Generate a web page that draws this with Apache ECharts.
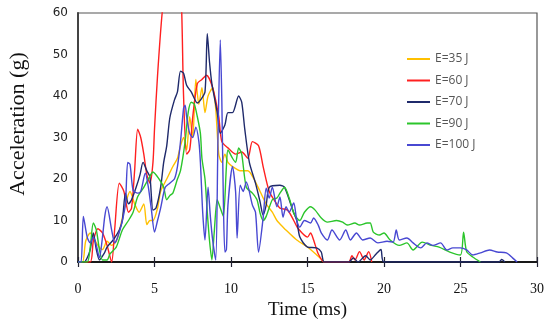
<!DOCTYPE html>
<html><head><meta charset="utf-8">
<script src="https://cdn.jsdelivr.net/npm/echarts@6/dist/echarts.min.js"></script>
<style>html,body{margin:0;padding:0;background:#fff}#c{width:550px;height:324px}</style>
</head><body><div id="c"></div>
<script>
var seriesNames = ["E=35 J","E=60 J","E=70 J","E=90 J","E=100 J"];
var xTicks = [0,5,10,15,20,25,30];
var yTicks = [0,10,20,30,40,50,60];

var t35 = [0,0.3,0.5,0.8,1.0,1.3,1.6,1.9,2.2,2.5,2.8,3.1,3.4,3.7,4.0,4.3,4.5,4.7,4.9,5.2,5.4,5.8,6.2,6.5,6.7,6.9,7.1,7.3,7.5,7.7,7.9,8.1,8.3,8.5,8.8,9.0,9.2,9.4,9.6,9.8,10.1,10.6,11.1,11.5,11.9,12.3,12.7,13.0,13.4,13.8,14.3,15.0,15.6,16.1];
var g35 = [0,0,5,7,6,4,3,5,4,5,9,14,17,14,12,14,9,10,10,13,17,20,23,25,28,30,27,35,30,44,38,42,36,40,42,37,26,24,26,24,23,22,22,20,17,14,12,10,8.4,7,5.3,3.6,1.7,0];

var t60 = [0,0.8,1.0,1.3,1.6,1.9,2.2,2.4,2.7,3.0,3.3,3.5,3.7,3.9,4.1,4.3,4.5,4.7,4.9,5.0,5.2,5.5,5.7,5.8,6.3,6.7,6.9,7.1,7.3,7.5,7.8,8.1,8.4,8.8,9.2,9.4,9.8,10.3,10.7,11.1,11.4,11.8,12.1,12.5,12.9,13.2,13.7,14.1,14.4,15.0,15.2,15.4,15.7,16.1,17.7,17.9,18.1,18.4,18.7,19.0,19.2];
var g60 = [0,0,5,8,7,4,0,8,19,17,12,13,22,32,30,26,21,19,24,32,45,60,65,70,75,68,40,26,27,35,43,44,45,42,35,29,27.5,26,26.5,25,29,28,23,17,14.5,13,12.5,10,8,6,7,5.3,2,0,0,1.5,0.5,2.5,0.5,2.5,0];

var t70 = [0,0.4,0.6,0.8,1.0,1.2,1.4,1.7,1.9,2.3,2.7,2.9,3.1,3.3,3.5,3.8,4.05,4.25,4.5,4.7,4.9,5.1,5.4,5.6,5.8,6.0,6.3,6.5,6.7,6.9,7.1,7.4,7.8,8.0,8.3,8.45,8.6,8.75,9.1,9.3,9.6,9.8,10.1,10.5,10.7,10.9,11.2,11.6,11.9,12.1,12.3,12.5,13.2,13.5,13.9,14.1,14.3,14.5,15.0,15.6,15.9,16.1,17.7,18.0,18.3,18.8,19.1,19.5,19.8,20.0,27.5,27.7,27.9];
var g70 = [0,0,1,3,7,3,0.5,2,3.6,5.3,7.7,10,16.6,14,15,18,21,24,22,20.5,12.5,13,18,24,28,34.7,39,41,46,45.5,42.6,41,38.3,39,41,55,48,43,36,31,33,36,36,40,38.5,32,24,19,14.5,11.3,13.7,18,18.5,18,14,11.8,10,6,3.6,3.4,2.4,0,0,1,0,1.5,0.5,2,3,0,0,0.6,0];

var t90 = [0,0.6,0.8,1.0,1.2,1.4,1.6,1.9,2.1,2.5,2.9,3.3,3.6,3.9,4.3,4.6,4.9,5.3,5.6,5.8,6.0,6.2,6.5,6.7,7.0,7.2,7.4,7.6,7.8,8.0,8.1,8.3,8.45,8.6,8.75,8.9,9.1,9.3,9.5,9.7,9.8,10.1,10.3,10.5,10.7,11.0,11.4,11.7,11.9,12.1,12.3,12.7,13.0,13.2,13.5,13.8,14.1,14.3,14.5,14.8,15.2,15.5,15.9,16.3,16.9,17.3,17.6,18.1,18.4,18.9,19.1,19.3,19.7,20.0,20.4,21.0,21.5,21.9,22.5,23.1,23.6,24.3,25.0,25.2,25.4,25.8,26.3];
var g90 = [0,0,3.6,9.4,7.7,3,0.5,0.5,2,3.6,7.7,10,12,15.7,18,20,21.7,20,18,15,16,16.6,20,22,29,36,38.5,38,35,31,25,20,12,5,0.5,7,15,13,11,23,27,25,24,27.5,26,18,16.6,15,11.8,10,11,15,15.4,16.6,18,15.4,11.8,10.6,10,12,13.3,12.5,10.6,9.6,10,9.6,8.9,9.4,8.9,9.4,9.4,7.2,6.5,7,5.3,4,4.6,2.9,4.8,4,3.6,2.4,1.7,7.2,2.5,1.2,0];

var t100 = [0,0.2,0.35,0.6,0.8,1.0,1.2,1.4,1.6,1.75,1.9,2.2,2.4,2.6,2.9,3.1,3.25,3.4,3.6,3.9,4.1,4.4,4.6,4.8,5.0,5.2,5.4,5.7,6.0,6.3,6.5,6.7,6.9,7.0,7.1,7.3,7.5,7.7,7.9,8.0,8.15,8.3,8.5,8.65,8.8,9.0,9.15,9.3,9.4,9.5,9.6,9.7,9.8,10.1,10.3,10.4,10.6,10.8,11.0,11.4,11.6,11.8,12.1,12.3,12.5,12.7,13.0,13.2,13.4,13.6,13.8,14.1,14.3,14.5,14.8,15.2,15.4,15.7,15.9,16.3,16.6,17.1,17.5,17.8,18.2,18.6,19.1,19.6,20.2,20.6,20.8,21.0,21.5,21.9,22.4,22.8,23.2,23.7,24.1,24.5,25.0,25.4,25.8,26.3,26.9,27.4,28.0,28.4,28.7];
var g100 = [0,0,11,6,4.6,6,4,1,6,11,13.3,7.7,4.6,6,10,14,24,23.5,17.3,16.6,17,21.4,18,12.5,7.2,10,13,18,19,20,23,29,37,37.8,35,31,30,32.5,29,24,12,5.3,18,11,5.3,0.5,30,53.5,39,15,2.4,3,13.7,23,17,5.8,18.5,17,19.3,13.7,12,2.4,10.6,17.8,15.4,18,13.3,15.7,10.8,13.3,12,14.2,10,8.4,10,9.4,10.6,8.9,7,5.3,7.7,5.3,7.7,5.3,7,5.3,5.8,4.6,5,4.8,7.7,5.3,5.8,4.6,3.4,4.6,4,4.6,2.9,3.4,3.4,2.9,1.7,2.2,2.9,2.4,2.2,1,0];

var colors = ["#FFC000","#FF2020","#1F2A6B","#2BC52B","#4848D2"];
var tArr = [t35,t60,t70,t90,t100];
var gArr = [g35,g60,g70,g90,g100];

function pairs(t,g){var o=[];for(var i=0;i<t.length;i++)o.push([t[i],g[i]]);return o;}

var chart = echarts.init(document.getElementById('c'));
var series = seriesNames.map(function(n,i){
  return {name:n,type:'line',data:pairs(tArr[i],gArr[i]),symbol:'none',showSymbol:false,
    smooth:0.25,clip:true,lineStyle:{color:colors[i],width:1.4},itemStyle:{color:colors[i]},z:2};
});
var serif = "'Liberation Serif','DejaVu Serif',serif";
chart.setOption({
  animation:false,
  color:colors,
  grid:{left:78,right:13,top:13,bottom:62,show:true,borderColor:'#555',borderWidth:1.2,outerBoundsMode:'none',containLabel:false},
  legend:{orient:'vertical',left:402,top:47,icon:'rect',itemWidth:23,itemHeight:2,itemGap:7.5,
    textStyle:{color:'#555',fontSize:12,lineHeight:14,fontFamily:"'Open Sans','Liberation Sans',sans-serif"},
    data:seriesNames},
  graphic:[{type:'text',x:18,y:124,rotation:Math.PI/2,
    style:{text:'Acceleration (g)',font:"22px 'Liberation Serif','DejaVu Serif',serif",fill:'#111',
      textAlign:'center',textVerticalAlign:'middle'}}],
  xAxis:[{type:'value',min:0,max:30,interval:5,name:'Time (ms)',nameLocation:'middle',nameGap:39,
    nameTextStyle:{fontFamily:serif,fontSize:19,fontWeight:'normal',color:'#111'},
    axisLine:{onZero:false,lineStyle:{color:'#111',width:1.5}},
    axisTick:{show:true,length:5,lineStyle:{color:'#223',width:1.2}},
    axisLabel:{fontFamily:serif,fontSize:14,color:'#111',margin:20},
    splitLine:{show:false}},
   {type:'value',min:0,max:30,interval:5,position:'bottom',offset:0,
    axisLine:{show:true,onZero:false,lineStyle:{color:'#111',width:1.5}},
    axisTick:{show:true,inside:true,length:5,lineStyle:{color:'#223',width:1.2}},
    axisLabel:{show:false},splitLine:{show:false}}],
  yAxis:{type:'value',min:0,max:60,interval:10,
    axisLine:{show:true,lineStyle:{color:'#444',width:2}},
    axisTick:{show:false},
    axisLabel:{fontFamily:"'DejaVu Sans',sans-serif",fontSize:12,color:'#222',margin:10},
    splitLine:{show:false}},
  series:series
});
</script></body></html>
